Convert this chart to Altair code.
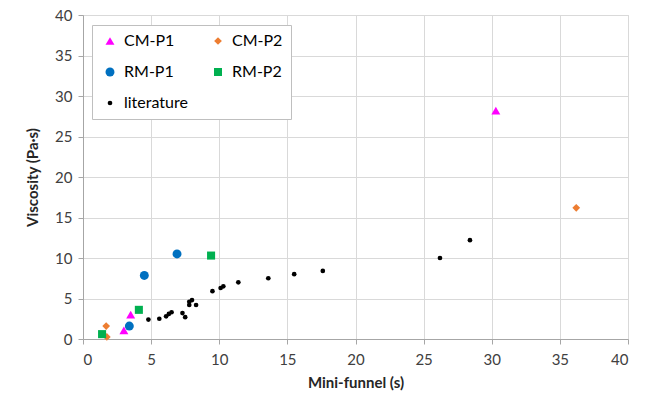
import altair as alt
import pandas as pd

series_names = ["CM-P1", "RM-P1", "literature", "CM-P2", "RM-P2"]

cm_p1_x = [3.0, 3.5, 30.3]
cm_p1_y = [1.05, 3.0, 28.2]

cm_p2_x = [1.7, 1.75, 36.2]
cm_p2_y = [1.6, 0.25, 16.2]

rm_p1_x = [3.4, 4.5, 6.9]
rm_p1_y = [1.6, 7.85, 10.5]

rm_p2_x = [1.4, 4.1, 9.4]
rm_p2_y = [0.6, 3.6, 10.3]

lit_x = [4.8, 5.6, 6.1, 6.3, 6.5, 7.3, 7.5, 7.8, 7.8, 8.0, 8.3, 9.5, 10.1, 10.3, 11.4, 13.6, 15.5, 17.6, 26.2, 28.4]
lit_y = [2.4, 2.5, 2.8, 3.1, 3.3, 3.2, 2.7, 4.2, 4.6, 4.8, 4.2, 5.9, 6.3, 6.5, 7.0, 7.5, 8.0, 8.4, 10.0, 12.2]

x_ticks = [0, 5, 10, 15, 20, 25, 30, 35, 40]
y_ticks = [0, 5, 10, 15, 20, 25, 30, 35, 40]

colors = ["#FF00FF", "#0070C0", "#000000", "#ED7D31", "#00B050"]
shapes = ["triangle-up", "circle", "circle", "diamond", "square"]
sizes = [80, 80, 22, 60, 65]

rows = []
for name, xs, ys in [
    ("literature", lit_x, lit_y),
    ("CM-P1", cm_p1_x, cm_p1_y),
    ("CM-P2", cm_p2_x, cm_p2_y),
    ("RM-P1", rm_p1_x, rm_p1_y),
    ("RM-P2", rm_p2_x, rm_p2_y),
]:
    for xv, yv in zip(xs, ys):
        rows.append({"series": name, "x": xv, "y": yv})
df = pd.DataFrame(rows)

FONT = "Lato"

legend = alt.Legend(
    title=None,
    orient="none",
    legendX=9,
    legendY=10,
    columns=2,
    gridAlign="all",
    columnPadding=20,
    rowPadding=15,
    padding=8,
    labelFontSize=16,
    labelFont=FONT,
    labelColor="#000000",
    strokeColor="#BFBFBF",
    fillColor="#FFFFFF",
    symbolOffset=2,
    labelOffset=6,
)

chart = alt.Chart(df).mark_point(filled=True, opacity=1, strokeWidth=0).encode(
    x=alt.X("x:Q", title="Mini-funnel (s)",
            scale=alt.Scale(domain=[0, 40], nice=False),
            axis=alt.Axis(values=x_ticks, grid=True)),
    y=alt.Y("y:Q", title="Viscosity (Pa·s)",
            scale=alt.Scale(domain=[0, 40], nice=False),
            axis=alt.Axis(values=y_ticks, grid=True)),
    color=alt.Color("series:N", scale=alt.Scale(domain=series_names, range=colors), legend=legend),
    shape=alt.Shape("series:N", scale=alt.Scale(domain=series_names, range=shapes), legend=legend),
    size=alt.Size("series:N", scale=alt.Scale(type="ordinal", domain=series_names, range=sizes), legend=legend),
).properties(
    width=545,
    height=324,
    autosize=alt.AutoSizeParams(type="none"),
    padding={"left": 83, "top": 15, "right": 28, "bottom": 62},
).configure_view(
    stroke="#D9D9D9",
).configure_axis(
    labelFont=FONT,
    labelFontSize=15,
    labelColor="#404040",
    titleFont=FONT,
    titleFontSize=15,
    titleFontWeight="bold",
    titleColor="#262626",
    gridColor="#D9D9D9",
    gridWidth=1,
    domainColor="#A6A6A6",
    tickColor="#A6A6A6",
    tickSize=5,
).configure_axisX(
    labelPadding=8,
    titlePadding=8,
).configure_axisY(
    labelPadding=6,
    titlePadding=14,
)

chart.save("out.html", embed_options={"renderer": "svg", "actions": False})
